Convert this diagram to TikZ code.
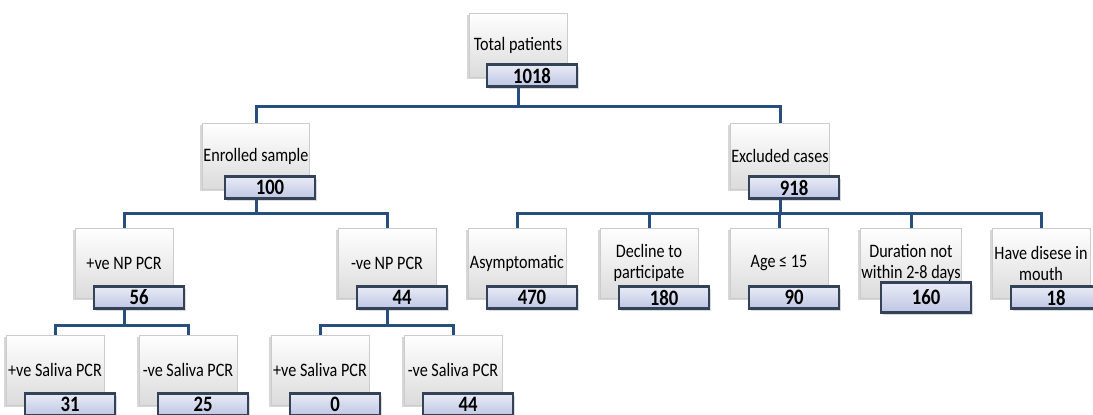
\documentclass[tikz,border=0pt]{standalone}
\usepackage{fontspec}
\setmainfont{Carlito}[FakeStretch=0.85]
\usepackage{xcolor}
\definecolor{linkblue}{RGB}{40,78,125}
\definecolor{numedge}{RGB}{52,66,88}
\definecolor{numfill}{RGB}{190,198,228}
\usepackage{tikz}
\usetikzlibrary{positioning,shadows}

\tikzset{
  catbox/.style={draw=gray!40, top color=white, bottom color=gray!28, minimum width=98pt,
    minimum height=70pt, align=center, inner sep=1pt,
    font=\fontsize{19}{21}\selectfont,
    drop shadow={shadow xshift=-2pt, shadow yshift=-2pt, fill=gray!70, opacity=0.45}},
  numbox/.style={draw=numedge, line width=2.6pt, top color=numfill!35!white, bottom color=numfill,
    minimum width=90pt, minimum height=22pt, inner sep=0pt,
    font=\bfseries\fontsize{22}{22}\selectfont,
    drop shadow={shadow xshift=1.5pt, shadow yshift=-2pt, fill=gray!70, opacity=0.4}},
  link/.style={draw=linkblue, line width=3pt},
}

\begin{document}
\begin{tikzpicture}[x=1pt,y=-1pt]
  \clip (0,0) rectangle (1093,415);

  % top
  \node[catbox, minimum height=64pt] (tot) at (518,45) {Total patients};
  \node[numbox, below=-14pt of tot, xshift=14pt] (totn) {1018};

  % second row
  \node[catbox, minimum height=66pt] (enr) at (256,156) {Enrolled sample};
  \node[numbox, below=-14pt of enr, xshift=14pt] (enrn) {100};
  \node[catbox, minimum height=66pt] (exc) at (780,156) {Excluded cases};
  \node[numbox, below=-14pt of exc, xshift=14pt] (excn) {918};

  % third row
  \node[catbox] (pnp) at (124,263) {+ve NP PCR};
  \node[numbox, below=-13pt of pnp, xshift=15pt] (pnpn) {56};
  \node[catbox] (nnp) at (387,263) {-ve NP PCR};
  \node[numbox, below=-13pt of nnp, xshift=15pt] (nnpn) {44};
  \node[catbox] (asy) at (517,263) {Asymptomatic};
  \node[numbox, below=-13pt of asy, xshift=15pt] (asyn) {470};
  \node[catbox] (dec) at (649,263) {Decline to\\participate};
  \node[numbox, below=-13pt of dec, xshift=15pt] (decn) {180};
  \node[catbox] (age) at (779,263) {Age ≤ 15};
  \node[numbox, below=-13pt of age, xshift=15pt] (agen) {90};
  \node[catbox] (dur) at (911,263) {Duration not\\within 2-8 days};
  \node[numbox, minimum height=30pt, below=-17pt of dur, xshift=15pt] (durn) {160};
  \node[catbox] (mou) at (1041,263) {Have disese in\\mouth};
  \node[numbox, below=-13pt of mou, xshift=15pt] (moun) {18};

  % bottom row
  \node[catbox] (ps1) at (55,370) {+ve Saliva PCR};
  \node[numbox, below=-13pt of ps1, xshift=15pt] (ps1n) {31};
  \node[catbox] (ns1) at (188,370) {-ve Saliva PCR};
  \node[numbox, below=-13pt of ns1, xshift=15pt] (ns1n) {25};
  \node[catbox] (ps2) at (320,370) {+ve Saliva PCR};
  \node[numbox, below=-13pt of ps2, xshift=15pt] (ps2n) {0};
  \node[catbox] (ns2) at (453,370) {-ve Saliva PCR};
  \node[numbox, below=-13pt of ns2, xshift=15pt] (ns2n) {44};

  % links
  \draw[link] (tot.south |- totn.south) -- ++(0,19) -| (enr.north);
  \draw[link] (tot.south |- totn.south) -- ++(0,19) -| (exc.north);
  \draw[link] (enr.south |- enrn.south) -- ++(0,14) -| (pnp.north);
  \draw[link] (enr.south |- enrn.south) -- ++(0,14) -| (nnp.north);
  \foreach \k in {asy,dec,age,dur,mou}
    \draw[link] (exc.south |- excn.south) -- ++(0,14) -| (\k.north);
  \draw[link] (pnp.south |- pnpn.south) -- ++(0,16) -| (ps1.north);
  \draw[link] (pnp.south |- pnpn.south) -- ++(0,16) -| (ns1.north);
  \draw[link] (nnp.south |- nnpn.south) -- ++(0,16) -| (ps2.north);
  \draw[link] (nnp.south |- nnpn.south) -- ++(0,16) -| (ns2.north);
\end{tikzpicture}
\end{document}
